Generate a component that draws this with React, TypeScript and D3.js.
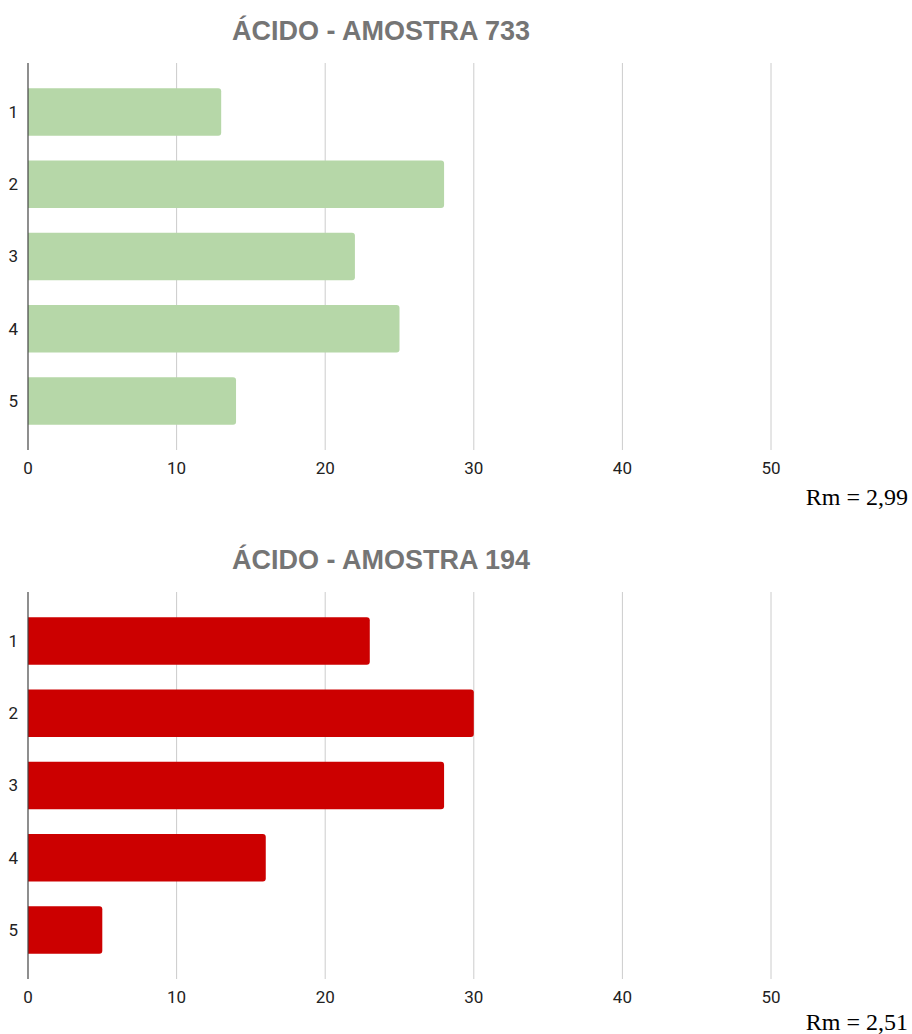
import React from "react";
import * as d3 from "d3";

const categories = ["1", "2", "3", "4", "5"];
const values733 = [13, 28, 22, 25, 14];
const values194 = [23, 30, 28, 16, 5];
const xTicks = [0, 10, 20, 30, 40, 50];
const titles = ["ÁCIDO - AMOSTRA 733", "ÁCIDO - AMOSTRA 194"];
const rmLabels = ["Rm = 2,99", "Rm = 2,51"];
const barColors = ["#b6d7a8", "#cc0000"];

const W = 912;
const H = 1034;

function barPath(x0: number, x1: number, y0: number, h: number, r: number) {
  const rr = Math.min(r, (x1 - x0) / 2, h / 2);
  return `M${x0},${y0}H${x1 - rr}Q${x1},${y0} ${x1},${y0 + rr}V${y0 + h - rr}Q${x1},${y0 + h} ${x1 - rr},${y0 + h}H${x0}Z`;
}

function Chart({ offsetY, title, values, color, rm, rmY }: { offsetY: number; title: string; values: number[]; color: string; rm: string; rmY: number }) {
  const top = 63;
  const bottom = 450;
  const x = d3.scaleLinear().domain([0, 50]).range([28, 771]);
  const y = d3.scaleBand<string>().domain(categories).range([top, bottom]).paddingInner(0.344).paddingOuter(0.35);
  return (
    <g transform={`translate(0,${offsetY})`}>
      <text x={381} y={40} textAnchor="middle" fontFamily="'Liberation Sans', Arial, sans-serif" fontWeight="bold" fontSize={27} fill="#757575">
        {title}
      </text>
      {xTicks.filter((t) => t !== 0).map((t) => (
        <line key={t} x1={x(t)} x2={x(t)} y1={top} y2={bottom} stroke="#cccccc" strokeWidth={1} />
      ))}
      {values.map((v, i) => (
        <path key={i} d={barPath(x(0), x(v), y(categories[i])!, y.bandwidth(), 3)} fill={color} />
      ))}
      <line x1={x(0)} x2={x(0)} y1={top} y2={bottom} stroke="#444444" strokeWidth={1.2} />
      {categories.map((c) => (
        <text key={c} x={18} y={y(c)! + y.bandwidth() / 2} dy="0.35em" textAnchor="end" fontFamily="Roboto, 'Liberation Sans', Arial, sans-serif" fontSize={17} fill="#222222">
          {c}
        </text>
      ))}
      {xTicks.map((t) => (
        <text key={t} x={x(t)} y={474} textAnchor="middle" fontFamily="Roboto, 'Liberation Sans', Arial, sans-serif" fontSize={17} fill="#222222">
          {t}
        </text>
      ))}
      <text x={908} y={rmY} textAnchor="end" fontFamily="'Liberation Serif', 'DejaVu Serif', serif" fontSize={24} fill="#000000">
        {rm}
      </text>
    </g>
  );
}

export default function App() {
  return (
    <svg width={W} height={H} style={{ position: "absolute", left: 0, top: 0, background: "#ffffff" }}>
      <rect x={0} y={0} width={W} height={H} fill="#ffffff" />
      <Chart offsetY={0} title={titles[0]} values={values733} color={barColors[0]} rm={rmLabels[0]} rmY={505} />
      <Chart offsetY={529} title={titles[1]} values={values194} color={barColors[1]} rm={rmLabels[1]} rmY={501} />
    </svg>
  );
}
